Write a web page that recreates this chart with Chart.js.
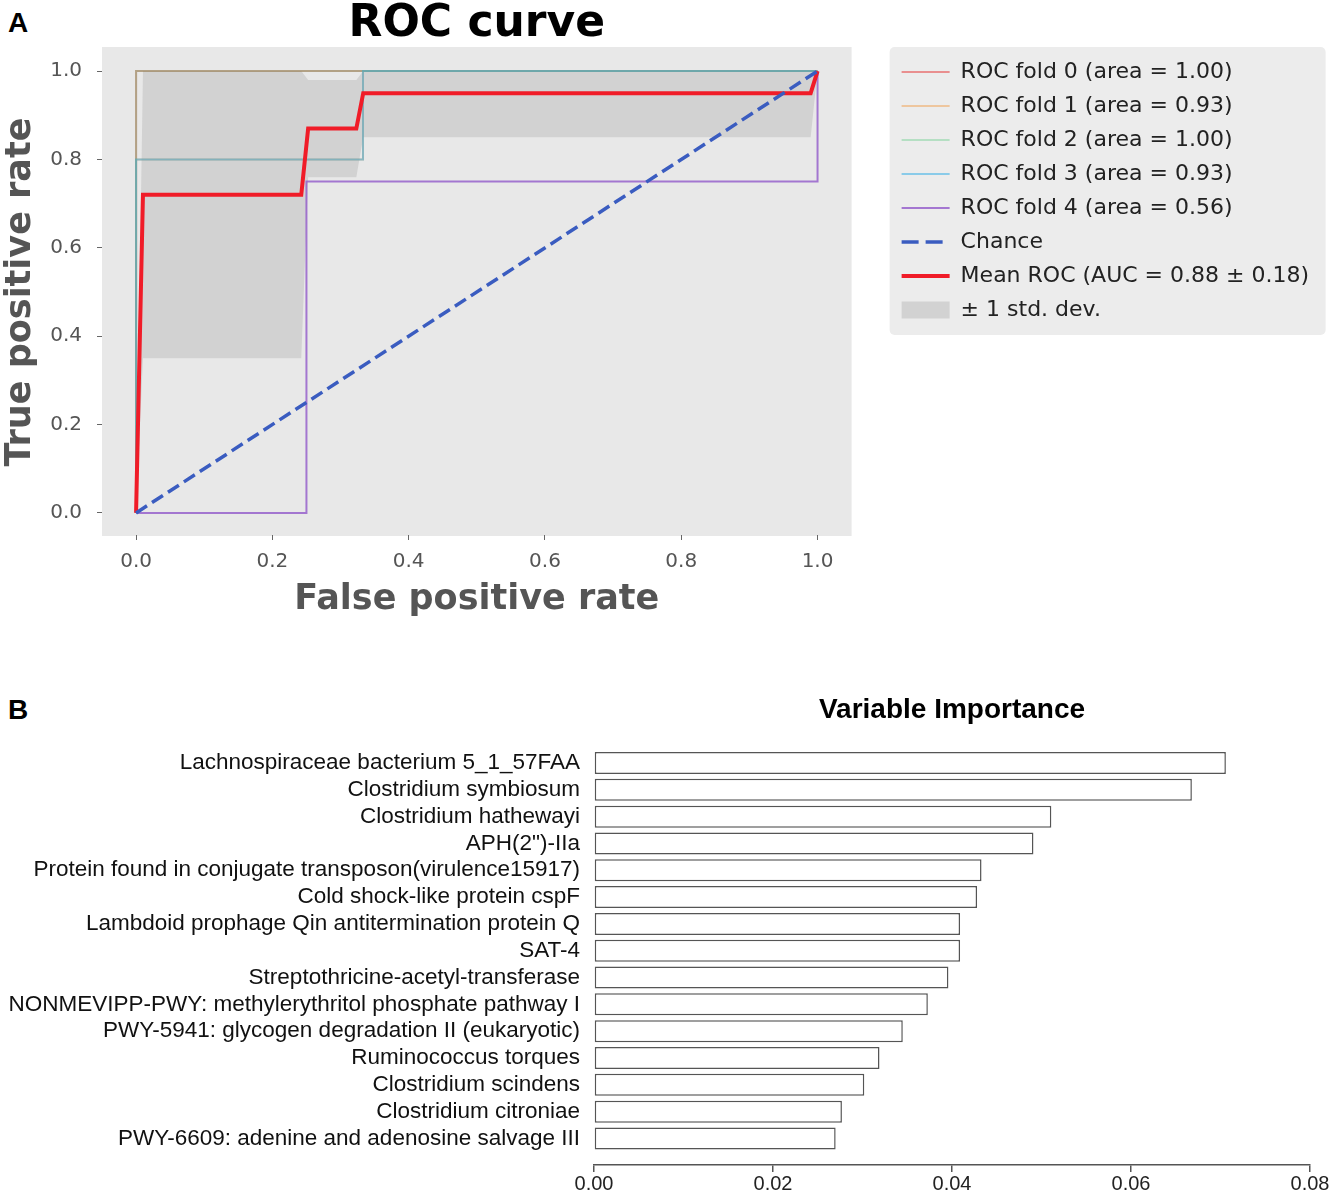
<!DOCTYPE html>
<html>
<head>
<meta charset="utf-8">
<script src="https://cdn.jsdelivr.net/npm/chart.js@4.4.1/dist/chart.umd.min.js"></script>
<style>
  body { margin: 0; background: #fff; width: 1333px; height: 1193px; position: relative; overflow: hidden; }
  canvas { position: absolute; left: 0; }
  .panel { position: absolute; left: 8px; font: bold 28px "Liberation Sans", Arial, sans-serif; line-height: 28px; color: #000; }
</style>
</head>
<body>
<div class="panel" style="top:9px">A</div>
<div class="panel" style="top:696px">B</div>
<canvas id="roc-chart" width="1333" height="640" style="top:0"></canvas>
<canvas id="importance-chart" width="1333" height="513" style="top:680px"></canvas>
<script>
// ROC folds
var foldLabels = ['ROC fold 0 (area = 1.00)', 'ROC fold 1 (area = 0.93)', 'ROC fold 2 (area = 1.00)',
                  'ROC fold 3 (area = 0.93)', 'ROC fold 4 (area = 0.56)'];
var foldFpr = [[0, 0, 1], [0, 0, 0.333, 0.333, 1], [0, 0, 1], [0, 0, 0.333, 0.333, 1], [0, 0.25, 0.25, 1, 1]];
var foldTpr = [[0, 1, 1], [0, 0.8, 0.8, 1, 1], [0, 1, 1], [0, 0.8, 0.8, 1, 1], [0, 0, 0.75, 0.75, 1]];
var foldColors = ['rgba(230,50,50,0.5)', 'rgba(240,160,80,0.5)', 'rgba(80,200,120,0.35)',
                  'rgba(40,170,230,0.5)', 'rgba(140,80,200,0.75)'];

var chanceFpr = [0, 1];
var chanceTpr = [0, 1];

var meanFpr = [0, 0.0101, 0.2424, 0.2525, 0.3232, 0.3333, 0.9899, 1];
var meanTpr = [0, 0.72, 0.72, 0.87, 0.87, 0.95, 0.95, 1];
var stdLower = [0, 0.35, 0.35, 0.76, 0.76, 0.85, 0.85, 1];
var stdUpper = [0, 1, 1, 0.98, 0.98, 1, 1, 1];

var rocTicks = [0, 0.2, 0.4, 0.6, 0.8, 1.0];

// Variable importance
var features = [
  'Lachnospiraceae bacterium 5_1_57FAA',
  'Clostridium symbiosum',
  'Clostridium hathewayi',
  'APH(2")-IIa',
  'Protein found in conjugate transposon(virulence15917)',
  'Cold shock-like protein cspF',
  'Lambdoid prophage Qin antitermination protein Q',
  'SAT-4',
  'Streptothricine-acetyl-transferase',
  'NONMEVIPP-PWY: methylerythritol phosphate pathway I',
  'PWY-5941: glycogen degradation II (eukaryotic)',
  'Ruminococcus torques',
  'Clostridium scindens',
  'Clostridium citroniae',
  'PWY-6609: adenine and adenosine salvage III'
];
var importance = [0.0706, 0.0668, 0.0511, 0.0491, 0.0433, 0.0428, 0.0409, 0.0409,
                  0.0396, 0.0373, 0.0345, 0.0319, 0.0302, 0.0277, 0.0270];
var importanceTicks = [0, 0.02, 0.04, 0.06, 0.08];

function pts(xs, ys) {
  return xs.map(function (x, i) { return { x: x, y: ys[i] }; });
}

var dejavu = 'DejaVu Sans';
var arial = 'Liberation Sans';

// grey panel behind the plot and behind the legend
var rocBackground = {
  id: 'rocBackground',
  beforeDraw: function (chart) {
    var ctx = chart.ctx, a = chart.chartArea, lg = chart.legend;
    ctx.save();
    ctx.fillStyle = '#e8e8e8';
    ctx.fillRect(a.left, a.top - 2, a.right - a.left, a.bottom - a.top + 3);
    ctx.fillStyle = '#ececec';
    var h = lg.legendItems.length * 34 + 16;
    ctx.beginPath();
    ctx.roundRect(lg.left, lg.top - 2, 436, h, 5);
    ctx.fill();
    ctx.restore();
  }
};

var datasets = foldLabels.map(function (name, i) {
  return {
    label: name, data: pts(foldFpr[i], foldTpr[i]), showLine: true,
    borderColor: foldColors[i], backgroundColor: foldColors[i], borderWidth: 2,
    pointRadius: 0, pointStyle: 'line', order: 8 - i
  };
});
datasets.push({
  label: 'Chance', data: pts(chanceFpr, chanceTpr), showLine: true,
  borderColor: '#3a5cc0', backgroundColor: '#3a5cc0', borderWidth: 3.5, borderDash: [13, 6],
  pointRadius: 0, pointStyle: 'line', order: 1
});
datasets.push({
  label: 'Mean ROC (AUC = 0.88 \u00b1 0.18)', data: pts(meanFpr, meanTpr), showLine: true,
  borderColor: '#f01c28', backgroundColor: '#f01c28', borderWidth: 4,
  pointRadius: 0, pointStyle: 'line', order: 2
});
datasets.push({
  label: '\u00b1 1 std. dev.', data: pts(meanFpr, stdUpper), showLine: true,
  borderColor: 'rgba(0,0,0,0)', backgroundColor: '#d2d2d2', borderWidth: 0,
  fill: '+1', pointRadius: 0, pointStyle: 'rect', order: 10
});
datasets.push({
  label: 'lower', data: pts(meanFpr, stdLower), showLine: true,
  borderColor: 'rgba(0,0,0,0)', borderWidth: 0, pointRadius: 0, order: 11
});

new Chart(document.getElementById('roc-chart'), {
  type: 'scatter',
  data: { datasets: datasets },
  plugins: [rocBackground],
  options: {
    responsive: false,
    animation: false,
    layout: { padding: { top: 0, left: 0, right: 14, bottom: 0 } },
    plugins: {
      title: {
        display: true, text: 'ROC curve', color: '#000', fullSize: false,
        font: { family: dejavu, size: 44, weight: 'bold', lineHeight: 1 },
        padding: { top: 3, bottom: 2 }
      },
      legend: {
        position: 'right', align: 'start', fullSize: false, maxWidth: 440,
        labels: {
          usePointStyle: true, pointStyleWidth: 48, boxHeight: 17, padding: 12,
          color: '#222', font: { family: dejavu, size: 22 },
          filter: function (item) { return item.text !== 'lower'; },
          sort: function (a, b) { return a.datasetIndex - b.datasetIndex; },
          generateLabels: function (chart) {
            var items = Chart.defaults.plugins.legend.labels.generateLabels(chart);
            items.forEach(function (it) {
              var ds = chart.data.datasets[it.datasetIndex];
              it.lineDash = ds.borderDash ? [17, 7] : [];
              it.lineWidth = ds.borderWidth;
            });
            return items;
          }
        }
      },
      tooltip: { enabled: false }
    },
    scales: {
      x: {
        type: 'linear', min: -0.05, max: 1.05,
        afterBuildTicks: function (s) { s.ticks = rocTicks.map(function (v) { return { value: v }; }); },
        afterFit: function (s) { s.height = 105; },
        grid: { display: true, drawOnChartArea: false, tickLength: 5, color: '#666' },
        border: { display: false },
        ticks: { color: '#555', padding: 10, font: { family: dejavu, size: 20 },
                 callback: function (v) { return v.toFixed(1); } },
        title: { display: true, text: 'False positive rate', color: '#555',
                 font: { family: dejavu, size: 35, weight: 'bold' }, padding: { top: 0, bottom: 19 } }
      },
      y: {
        type: 'linear', min: -0.05, max: 1.05,
        afterBuildTicks: function (s) { s.ticks = rocTicks.map(function (v) { return { value: v }; }); },
        afterFit: function (s) { s.width = 102; },
        grid: { display: true, drawOnChartArea: false, tickLength: 5, color: '#666' },
        border: { display: false },
        ticks: { color: '#555', padding: 15, font: { family: dejavu, size: 20 },
                 callback: function (v) { return v.toFixed(1); } },
        title: { display: true, text: 'True positive rate', color: '#555',
                 font: { family: dejavu, size: 35, weight: 'bold' }, padding: { top: 0, bottom: 0 } }
      },
      gap: {
        type: 'linear', position: 'right', display: true,
        afterFit: function (s) { s.width = 38; },
        grid: { display: false, drawTicks: false }, border: { display: false },
        ticks: { display: false }
      }
    }
  }
});

new Chart(document.getElementById('importance-chart'), {
  type: 'bar',
  data: {
    datasets: [{
      label: 'Variable Importance',
      data: importance.map(function (v, i) { return { x: v, y: i }; }),
      backgroundColor: '#ffffff', borderColor: '#555', borderWidth: 1.5,
      borderSkipped: false, barPercentage: 0.82, categoryPercentage: 1
    }]
  },
  options: {
    indexAxis: 'y',
    responsive: false,
    animation: false,
    layout: { padding: { top: 0, left: 0, right: 23, bottom: 0 } },
    plugins: {
      legend: { display: false },
      tooltip: { enabled: false },
      title: {
        display: true, text: 'Variable Importance', color: '#000', fullSize: false,
        font: { family: arial, size: 28, weight: 'bold' },
        padding: { top: 13, bottom: 23 }
      }
    },
    scales: {
      x: {
        type: 'linear', min: 0, max: 0.08,
        afterBuildTicks: function (s) { s.ticks = importanceTicks.map(function (v) { return { value: v }; }); },
        afterFit: function (s) { s.height = 28; },
        grid: { display: true, drawOnChartArea: false, tickLength: 7, color: '#555', lineWidth: 1.5 },
        border: { display: true, color: '#555', width: 1.5 },
        ticks: { color: '#222', padding: 0, font: { family: arial, size: 20 },
                 callback: function (v) { return v.toFixed(2); } }
      },
      y: {
        type: 'linear', min: -0.5, max: 14.99, reverse: true, offset: false,
        afterBuildTicks: function (s) { s.ticks = features.map(function (f, i) { return { value: i }; }); },
        afterFit: function (s) { s.width = 594; },
        grid: { display: false, drawTicks: false, offset: false },
        border: { display: false },
        ticks: { autoSkip: false, color: '#111', padding: 14, font: { family: arial, size: 22.5 },
                 callback: function (v) { return features[v]; } }
      }
    }
  }
});
</script>
</body>
</html>
